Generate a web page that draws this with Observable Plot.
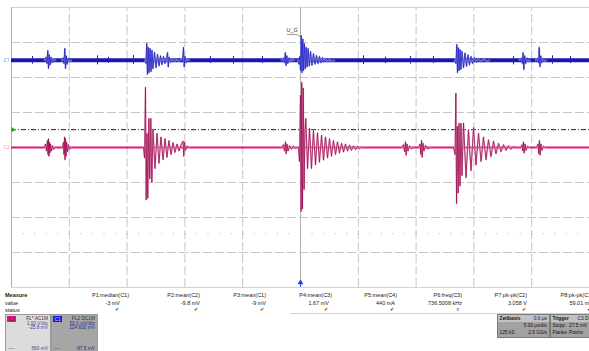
<!DOCTYPE html>
<html><head><meta charset="utf-8">
<script src="https://cdn.jsdelivr.net/npm/d3@7"></script>
<script src="https://cdn.jsdelivr.net/npm/@observablehq/plot@0.6"></script>
<style>
body{margin:0;background:#fff;}
#wrap{position:relative;width:589px;height:351px;overflow:hidden;font-family:"Liberation Sans",Arial,sans-serif;background:#fff;}
#chart{position:absolute;left:0;top:0;}
.t{position:absolute;font-size:5.5px;line-height:5.5px;color:#222;white-space:nowrap;}
.box{position:absolute;overflow:hidden;box-sizing:border-box;}
.bt{position:absolute;font-size:4.8px;line-height:4.8px;white-space:nowrap;}
</style></head>
<body><div id="wrap"><div id="chart"></div></div>
<script>
// ---- axes (5 µs/div horizontally, screen divisions vertically) ----
const timeGrid = [-25,-20,-15,-10,-5,0,5,10,15,20,25];
const divGrid = [-4,-3,-2,-1,0,1,2,3,4];
const blueOffset = 2.49;     // C1 trace zero level (div)
const pinkOffset = 0;        // C2 trace zero level (div)
const triggerLevel = 0.51;   // dash-dot trigger level (div)
const refDotted = -2.46;     // dotted reference level (div)

// ---- C2 (magenta) bursts: [time µs, div] ----
const pinkA1 = [[-22.15,0],[-22.06,0.1],[-21.97,-0.1],[-21.89,0.2],[-21.84,-0.2],[-21.80,0.25],[-21.76,-0.25],[-21.71,0.15],[-21.67,-0.15],[-21.63,0.1],[-21.54,-0.1],[-21.45,0.05],[-21.37,-0.05],[-21.19,0]];
const pinkA2 = [[-20.59,0],[-20.50,0.15],[-20.46,-0.2],[-20.41,0.3],[-20.37,-0.35],[-20.33,0.25],[-20.28,-0.25],[-20.24,0.15],[-20.15,-0.12],[-20.07,0.08],[-19.98,-0.05],[-19.81,0]];
const pinkB = [[-13.58,0],[-13.49,-0.3],[-13.41,1.72],[-13.35,-1.5],[-13.28,0.4],[-13.21,-1.45],[-13.12,0.83],[-13.04,-0.9],[-12.95,0.83],[-12.86,-1.0],[-12.76,0.5],[-12.59,-0.6],[-12.41,0.4],[-12.24,-0.45],[-12.07,0.3],[-11.89,-0.35],[-11.72,0.25],[-11.55,-0.28],[-11.38,0.2],[-11.2,-0.2],[-11.03,0.14],[-10.86,-0.14],[-10.68,0.1],[-10.51,-0.1],[-10.34,0.07],[-10.16,0.18],[-10.1,-0.25],[-10.03,0.15],[-9.95,-0.08],[-9.82,0.04],[-9.6,0]];
const pinkC = [[-1.64,0],[-1.47,0.08],[-1.38,-0.1],[-1.30,0.16],[-1.24,-0.18],[-1.17,0.1],[-1.08,-0.1],[-0.95,0.05],[-0.78,-0.05],[-0.61,0.04],[-0.43,-0.03],[-0.26,0]];
const pinkD = [[-0.17,0],[-0.09,-0.4],[0.0,1.5],[0.05,-1.83],[0.11,1.86],[0.17,-1.75],[0.24,1.7],[0.31,-1.2],[0.38,0.4],[0.46,0.83],[0.61,-0.6],[0.78,0.55],[0.95,-0.6],[1.12,0.48],[1.30,-0.5],[1.47,0.42],[1.64,-0.42],[1.82,0.35],[1.99,-0.36],[2.16,0.3],[2.34,-0.3],[2.51,0.25],[2.68,-0.25],[2.85,0.2],[3.03,-0.2],[3.20,0.16],[3.37,-0.16],[3.55,0.12],[3.72,-0.13],[3.89,0.1],[4.07,-0.1],[4.24,0.07],[4.41,-0.08],[4.58,0.05],[4.76,-0.06],[4.93,0.04],[5.10,-0.04],[5.28,0.02],[5.54,0]];
const pinkE1 = [[8.74,0],[8.91,0.08],[9.0,-0.12],[9.08,0.16],[9.14,-0.22],[9.21,0.1],[9.30,-0.1],[9.43,0.05],[9.60,-0.04],[9.78,0]];
const pinkE2 = [[10.21,0],[10.34,0.1],[10.41,-0.2],[10.47,0.2],[10.53,-0.28],[10.60,0.12],[10.68,-0.1],[10.81,0.06],[10.99,-0.04],[11.25,0]];
const pinkF = [[13.24,0],[13.37,-0.2],[13.44,1.55],[13.50,-1.6],[13.57,0.6],[13.64,-1.3],[13.71,0.69],[13.80,-1.1],[13.88,0.69],[13.97,-0.8],[14.10,0.7],[14.32,-0.86],[14.53,0.5],[14.75,-0.66],[14.97,0.57],[15.18,-0.5],[15.40,0.4],[15.62,-0.4],[15.83,0.3],[16.05,-0.35],[16.26,0.22],[16.48,-0.26],[16.70,0.18],[16.91,-0.18],[17.13,0.12],[17.35,-0.12],[17.56,0.08],[17.78,-0.08],[17.99,0.05],[18.21,-0.05],[18.43,0.03],[18.69,0]];
const pinkF2 = [[19.03,0],[19.16,0.08],[19.23,-0.1],[19.29,0.16],[19.35,-0.16],[19.42,0.1],[19.51,-0.08],[19.64,0.04],[19.81,0]];
const pinkF3 = [[20.42,0],[20.55,0.1],[20.61,-0.18],[20.67,0.2],[20.73,-0.22],[20.80,0.1],[20.89,-0.08],[21.02,0.04],[21.19,0]];

// ---- C1 (blue) bursts: [time µs, div] ----
const blueA1 = [[-22.15,2.49],[-22.02,2.58],[-21.93,2.40],[-21.86,2.77],[-21.80,2.26],[-21.73,2.65],[-21.66,2.36],[-21.58,2.58],[-21.50,2.42],[-21.37,2.53],[-21.19,2.49]];
const blueA2 = [[-20.67,2.49],[-20.54,2.56],[-20.46,2.40],[-20.39,2.83],[-20.33,2.26],[-20.26,2.62],[-20.19,2.38],[-20.11,2.55],[-19.98,2.45],[-19.81,2.49]];
const blueB = [[-13.49,2.49],[-13.37,2.4],[-13.30,2.97],[-13.24,2.09],[-13.17,2.86],[-13.10,2.14],[-13.02,2.83],[-12.93,2.17],[-12.85,2.78],[-12.76,2.25],[-12.63,2.72],[-12.50,2.28],[-12.37,2.66],[-12.24,2.33],[-12.11,2.62],[-11.98,2.37],[-11.85,2.6],[-11.72,2.4],[-11.59,2.55],[-11.50,2.71],[-11.44,2.3],[-11.37,2.58],[-11.25,2.43],[-11.07,2.54],[-10.90,2.45],[-10.73,2.52],[-10.55,2.47],[-10.29,2.51],[-10.18,2.58],[-10.12,2.86],[-10.06,2.31],[-9.99,2.6],[-9.90,2.42],[-9.77,2.52],[-9.60,2.49]];
const blueC = [[-1.64,2.49],[-1.47,2.56],[-1.38,2.42],[-1.31,2.71],[-1.25,2.34],[-1.18,2.62],[-1.10,2.40],[-0.99,2.56],[-0.87,2.44],[-0.69,2.52],[-0.52,2.49]];
const blueD = [[-0.26,2.49],[-0.13,2.38],[-0.06,2.6],[0.0,2.2],[0.06,3.2],[0.13,2.14],[0.20,3.1],[0.26,2.2],[0.33,2.97],[0.41,2.25],[0.49,2.86],[0.57,2.3],[0.66,2.83],[0.76,2.33],[0.87,2.74],[0.99,2.35],[1.12,2.68],[1.25,2.38],[1.38,2.63],[1.51,2.4],[1.64,2.6],[1.77,2.42],[1.90,2.57],[2.03,2.44],[2.16,2.54],[2.34,2.45],[2.51,2.52],[2.68,2.47],[2.94,2.49]];
const blueF = [[13.32,2.49],[13.45,2.4],[13.52,2.94],[13.58,2.14],[13.65,2.85],[13.72,2.2],[13.80,2.8],[13.88,2.23],[13.97,2.75],[14.10,2.28],[14.23,2.7],[14.36,2.32],[14.49,2.65],[14.62,2.36],[14.75,2.6],[14.88,2.4],[15.05,2.57],[15.22,2.43],[15.40,2.54],[15.57,2.45],[15.83,2.52],[16.09,2.47],[16.35,2.49]];
const blueF2 = [[18.95,2.49],[19.12,2.56],[19.20,2.40],[19.26,2.71],[19.32,2.23],[19.39,2.62],[19.48,2.4],[19.59,2.56],[19.72,2.45],[19.90,2.49]];
const blueF3 = [[20.33,2.49],[20.50,2.55],[20.59,2.42],[20.65,2.86],[20.71,2.31],[20.78,2.62],[20.87,2.42],[20.98,2.55],[21.11,2.46],[21.28,2.49]];
// small noise spikes on the C1 trace: [time µs, low div, high div]
const blueNoise = [[-23.18,2.38,2.6],[-17.56,2.36,2.62],[-16.61,2.4,2.58],[-14.45,2.37,2.63],[-7.79,2.4,2.6],[-5.80,2.38,2.6],[-3.29,2.4,2.6],[5.45,2.37,2.62],[7.35,2.4,2.58],[9.52,2.38,2.6],[11.5,2.4,2.6],[18.43,2.36,2.6],[21.8,2.38,2.62],[23.36,2.4,2.6]];

const pinkBursts = [pinkA1,pinkA2,pinkB,pinkC,pinkD,pinkE1,pinkE2,pinkF,pinkF2,pinkF3];
const blueBursts = [blueA1,blueA2,blueB,blueC,blueD,blueF,blueF2,blueF3];

// ---- annotations ----
const peakLabel = {text:"U_G", t:-0.72, y:3.36};
const peakLeader = [[-1.15,3.23],[-0.3,3.23],[0.12,3.12]];

// ---- measurement table ----
const measureHeaders = ["P1:median(C1)","P2:mean(C2)","P3:mean(C1)","P4:mean(C3)","P5:mean(C4)","P6:freq(C3)","P7:pk-pk(C2)","P8:pk-pk(C1)"];
const measureValues = ["-3 mV","-9.8 mV","-9 mV","1.67 mV","440 mA","736.5008 kHz","3.058 V","59.01 mV"];
const measureStatus = ["✔","✔","✔","✔","✔","x","✔","✔"];
const rowLabels = ["Measure","value","status"];
const c2Box = ["C2","FL* AC1M","1.00 V/div","-25.8 mV","----","560 mV"];
const c1Box = ["C1","FL2 DC1M","50.0 mV/div","124.600 mV","----","-97.5 mV"];
const timebaseBox = ["Zeitbasis","0.0 µs","5.00 µs/div","125 kS","2.5 GS/s"];
const triggerBox = ["Trigger","C3 DC","Stopp","27.5 mV","Flanke","Positiv"];

const toRows = bursts => bursts.flatMap((b,i)=>b.map(([t,y])=>({t,y,i})));
const pinkRows = toRows(pinkBursts);
const blueRows = toRows(blueBursts);

const plot = Plot.plot({
  width:589, height:290,
  marginLeft:0, marginRight:0, marginTop:0, marginBottom:0,
  x:{domain:[-25,25], range:[11,589], axis:null},
  y:{domain:[-4,4], range:[287,7], axis:null},
  style:{background:"transparent", overflow:"visible"},
  marks:[
    Plot.ruleX(timeGrid.filter(d=>d!==-25&&d!==0&&d!==25), {y1:-4,y2:4,stroke:"#c6c6c6",strokeDasharray:"9,3"}),
    Plot.ruleY(divGrid.filter(d=>Math.abs(d)!==4&&d!==0), {x1:-25,x2:25,stroke:"#c6c6c6",strokeDasharray:"9,3"}),
    Plot.ruleY([4,-4], {x1:-25,x2:25,stroke:"#d4d4d4"}),
    Plot.ruleY([0], {x1:-25,x2:25,stroke:"#b8b8b8"}),
    Plot.ruleX([-25,0], {y1:-4,y2:4,stroke:"#b0b0b0"}),
    Plot.ruleY([refDotted], {x1:-25,x2:25,stroke:"#b0b0b0",strokeDasharray:"1,10.56"}),
    Plot.ruleY([triggerLevel], {x1:-25,x2:25,stroke:"#262626",strokeDasharray:"5,2,1,2"}),
    // C1 trace
    Plot.ruleY([blueOffset], {x1:-25,x2:25,stroke:"#1717ad",strokeWidth:4}),
    Plot.ruleX(blueNoise, {x:d=>d[0],y1:d=>d[1],y2:d=>d[2],stroke:"#2020b8",strokeWidth:1}),
    Plot.line(blueRows, {x:"t",y:"y",z:"i",stroke:"#a4a4ea",strokeWidth:1.6}),
    Plot.line(blueRows, {x:"t",y:"y",z:"i",stroke:"#2222c0",strokeWidth:0.8}),
    // C2 trace
    Plot.ruleY([pinkOffset], {x1:-25,x2:25,stroke:"#e3167a",strokeWidth:1.8}),
    Plot.line(pinkRows, {x:"t",y:"y",z:"i",stroke:"#ecb4ce",strokeWidth:1.6}),
    Plot.line(pinkRows, {x:"t",y:"y",z:"i",stroke:"#9a0c50",strokeWidth:0.8}),
    // annotations
    Plot.line(peakLeader, {stroke:"#555",strokeWidth:0.6}),
    Plot.text([peakLabel], {x:"t",y:"y",text:"text",fontSize:5.5,fill:"#333",fontFamily:"Liberation Sans"}),
    Plot.text(["C1"], {x:-25,y:blueOffset,text:d=>d,dx:-5,fontSize:5,fill:"#8080e0"}),
    Plot.text(["C2"], {x:-25,y:pinkOffset,text:d=>d,dx:-5,fontSize:5,fill:"#ee90b8"}),
    Plot.dot([triggerLevel], {x:-25,y:d=>d,dx:1.5,symbol:"triangle",rotate:90,r:2,fill:"#22b022"}),
    Plot.ruleX([0], {y1:-4,y2:-3.86,stroke:"#2a40e0",strokeWidth:1}),
    Plot.dot([0], {x:d=>d,y:-3.86,symbol:"triangle",r:2.2,fill:"#2a40e0"})
  ]
});
document.getElementById("chart").appendChild(plot);

// ---- HTML panel below the grid ----
const wrap = document.getElementById("wrap");
function txt(s, o){ const e=document.createElement("div"); e.className=o.cls||"t"; e.textContent=s;
  if(o.left!=null) e.style.left=o.left+"px"; if(o.right!=null) e.style.right=o.right+"px";
  e.style.top=o.top+"px"; if(o.color) e.style.color=o.color; if(o.bold) e.style.fontWeight="bold";
  if(o.size){e.style.fontSize=o.size+"px";e.style.lineHeight=o.size+"px";}
  (o.parent||wrap).appendChild(e); return e; }

const sep=document.createElement("div"); sep.style.cssText="position:absolute;left:290px;top:313px;width:300px;height:1px;background:#cfcfcf"; wrap.appendChild(sep);

txt(rowLabels[0],{left:5,top:292.5,bold:true,size:5.5});
txt(rowLabels[1],{left:5,top:300.5});
txt(rowLabels[2],{left:5,top:307.5});
const headRight=[129,200,266,332,397,462,527,593];
const valRight=[120,200,266,329,395,462,527,593];
const statRight=[119,198,264,328,394,459,526,591];
measureHeaders.forEach((h,i)=>{
  txt(h,{right:589-headRight[i],top:292.5});
  txt(measureValues[i],{right:589-valRight[i],top:300.5});
  txt(measureStatus[i],{right:589-statRight[i],top:307,size:5,color:"#333"});
});

function box(left,top,w,h,bg,border){ const b=document.createElement("div"); b.className="box";
  b.style.cssText+=`left:${left}px;top:${top}px;width:${w}px;height:${h}px;background:${bg};border:1px solid ${border};`;
  wrap.appendChild(b); return b; }
function chanBox(left,w,bg,tagBg,tagColor,textColor,labels){
  const b=box(left,314,w,38,bg,"#9a9a9a");
  const tag=document.createElement("div"); tag.style.cssText=`position:absolute;left:1px;top:1px;width:9px;height:6px;background:${tagBg};`; b.appendChild(tag);
  txt(labels[0],{cls:"bt",left:1.5,top:1.5,parent:tag,color:tagColor});
  txt(labels[1],{cls:"bt",right:2,top:1.5,parent:b,color:"#333"});
  txt(labels[2],{cls:"bt",right:2,top:6.5,parent:b,color:textColor});
  txt(labels[3],{cls:"bt",right:2,top:11,parent:b,color:textColor});
  txt(labels[4],{cls:"bt",left:2,top:32,parent:b,color:"#444"});
  txt(labels[5],{cls:"bt",right:2,top:32,parent:b,color:textColor});
}
chanBox(5,46,"#dcdcdc","#e5157c","#333","#4a3a9e",c2Box);
chanBox(51,47,"#a6a6a6","#1a1ae6","#ccd","#202a8a",c1Box);

function infoBox(left,w,labels,rows){
  const b=box(left,314,w,24,"#a2a2a2","#7a7a7a");
  const hd=document.createElement("div"); hd.style.cssText="position:absolute;left:0;top:0;right:0;height:7px;background:#c2c2c2;"; b.appendChild(hd);
  txt(labels[0],{cls:"bt",left:1.5,top:1.5,parent:b,bold:true,color:"#111"});
  txt(labels[1],{cls:"bt",right:2,top:1.5,parent:b,color:"#111"});
  rows.forEach(r=>txt(r.s,{cls:"bt",left:r.l,right:r.r,top:r.top,parent:b,color:"#111"}));
}
infoBox(497,53,timebaseBox,[{s:timebaseBox[2],r:2,top:9},{s:timebaseBox[3],l:1.5,top:15.5},{s:timebaseBox[4],r:2,top:15.5}]);
infoBox(550,45,triggerBox,[{s:triggerBox[2],l:1.5,top:9},{s:triggerBox[3],l:18,top:9},{s:triggerBox[4],l:1.5,top:15.5},{s:triggerBox[5],l:18,top:15.5}]);
</script></body></html>
